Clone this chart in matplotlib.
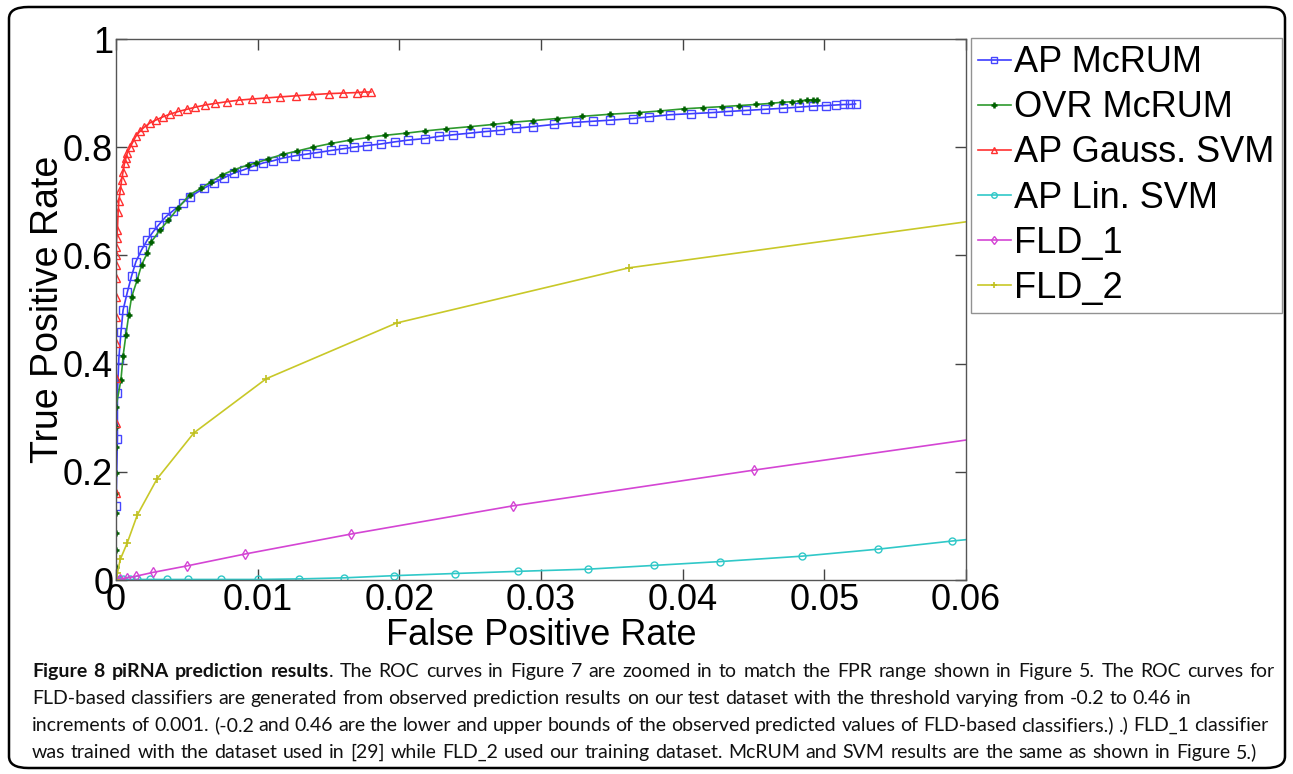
import matplotlib
matplotlib.use('Agg')
import matplotlib.pyplot as plt
from matplotlib.patches import FancyBboxPatch

# ROC curve points (FPR, TPR)
blue_fpr = [0, 0, 0.0001, 0.0001, 0.0002, 0.00035, 0.0005, 0.0008, 0.0011, 0.0014,
            0.0018, 0.0022, 0.0026, 0.003, 0.0035, 0.004, 0.0047, 0.0052, 0.0062, 0.0069,
            0.0076, 0.0083, 0.009, 0.0097, 0.0104, 0.0111, 0.0118, 0.0126, 0.0134, 0.0142,
            0.0152, 0.016, 0.0168, 0.0177, 0.0187, 0.0197, 0.0206, 0.0218, 0.0228, 0.0238,
            0.025, 0.0261, 0.0271, 0.0282, 0.0294, 0.0309, 0.0325, 0.0337, 0.0349, 0.0365,
            0.0376, 0.0391, 0.0406, 0.0421, 0.0432, 0.0445, 0.0458, 0.0471, 0.0482, 0.0492,
            0.0501, 0.0508, 0.0514, 0.0518, 0.0522]
blue_tpr = [0, 0.137, 0.26, 0.345, 0.409, 0.458, 0.499, 0.532, 0.562, 0.588,
            0.61, 0.628, 0.643, 0.656, 0.671, 0.682, 0.697, 0.708, 0.724, 0.734,
            0.743, 0.752, 0.758, 0.765, 0.771, 0.775, 0.78, 0.784, 0.787, 0.79,
            0.794, 0.797, 0.8, 0.803, 0.806, 0.81, 0.813, 0.816, 0.82, 0.823,
            0.826, 0.829, 0.831, 0.835, 0.838, 0.842, 0.846, 0.848, 0.85, 0.853,
            0.856, 0.86, 0.862, 0.864, 0.866, 0.868, 0.87, 0.872, 0.874, 0.876,
            0.877, 0.878, 0.879, 0.879, 0.88]

green_fpr = [0, 0, 0, 0, 0, 0, 0, 0, 0, 0,
             0.00035, 0.0005, 0.0007, 0.0009, 0.0011, 0.0015, 0.0018, 0.0022, 0.0025, 0.0031,
             0.0037, 0.0044, 0.0052, 0.006, 0.0067, 0.0075, 0.0083, 0.0093, 0.0099, 0.0107,
             0.0118, 0.0128, 0.0139, 0.0152, 0.0165, 0.0178, 0.019, 0.0205, 0.0218, 0.0233,
             0.025, 0.0266, 0.0279, 0.0294, 0.0311, 0.0329, 0.0349, 0.0369, 0.0384, 0.0401,
             0.0414, 0.0428, 0.044, 0.0452, 0.0462, 0.047, 0.0477, 0.0483, 0.0488, 0.0492,
             0.0495]
green_tpr = [0, 0.024, 0.055, 0.087, 0.124, 0.161, 0.198, 0.246, 0.283, 0.32,
             0.37, 0.414, 0.453, 0.49, 0.523, 0.555, 0.582, 0.604, 0.625, 0.647,
             0.665, 0.688, 0.712, 0.724, 0.736, 0.749, 0.758, 0.767, 0.771, 0.778,
             0.787, 0.793, 0.8, 0.807, 0.813, 0.818, 0.822, 0.826, 0.83, 0.834,
             0.838, 0.842, 0.846, 0.849, 0.853, 0.857, 0.861, 0.864, 0.867, 0.871,
             0.873, 0.875, 0.877, 0.879, 0.881, 0.883, 0.884, 0.886, 0.887, 0.888,
             0.888]

red_fpr = [0, 0, 0, 0, 0, 0, 0, 0, 0, 0,
           0, 0.00005, 0.0001, 0.00015, 0.0002, 0.0003, 0.0004, 0.0005, 0.0006, 0.0007,
           0.0008, 0.001, 0.0012, 0.0014, 0.0017, 0.002, 0.0024, 0.0028, 0.0033, 0.0038,
           0.0044, 0.005, 0.0056, 0.0063, 0.007, 0.0078, 0.0087, 0.0096, 0.0106, 0.0116,
           0.0127, 0.0138, 0.015, 0.016, 0.017, 0.0175, 0.018]
red_tpr = [0, 0.161, 0.29, 0.373, 0.438, 0.486, 0.523, 0.558, 0.582, 0.601,
           0.616, 0.632, 0.647, 0.68, 0.70, 0.72, 0.74, 0.755, 0.77, 0.78,
           0.79, 0.80, 0.81, 0.82, 0.83, 0.837, 0.845, 0.85, 0.856, 0.861,
           0.866, 0.87, 0.874, 0.878, 0.881, 0.884, 0.887, 0.889, 0.891, 0.893,
           0.895, 0.897, 0.899, 0.9, 0.901, 0.902, 0.902]

cyan_fpr = [0, 0.0002, 0.0005, 0.001, 0.0015, 0.0024, 0.0036, 0.0051, 0.0074, 0.01,
            0.0129, 0.0161, 0.0196, 0.0239, 0.0284, 0.0333, 0.038, 0.0426, 0.0484, 0.0538,
            0.059, 0.0625]
cyan_tpr = [0, 0, 0.001, 0.001, 0.001, 0.001, 0.001, 0.001, 0.001, 0.001,
            0.002, 0.004, 0.008, 0.012, 0.016, 0.02, 0.027, 0.034, 0.044, 0.057,
            0.072, 0.081]

mag_fpr = [0, 0.0003, 0.0008, 0.0014, 0.0026, 0.005, 0.0091, 0.0166, 0.028, 0.045, 0.0625]
mag_tpr = [0, 0.002, 0.004, 0.007, 0.014, 0.026, 0.048, 0.085, 0.137, 0.203, 0.268]

yel_fpr = [0, 0.0001, 0.0003, 0.0008, 0.0015, 0.0029, 0.0055, 0.0106, 0.0198, 0.0362, 0.0625]
yel_tpr = [0, 0.013, 0.038, 0.069, 0.12, 0.187, 0.272, 0.372, 0.475, 0.577, 0.671]

labels = ['AP McRUM', 'OVR McRUM', 'AP Gauss. SVM', 'AP Lin. SVM', 'FLD_1', 'FLD_2']
x_ticks = [0, 0.01, 0.02, 0.03, 0.04, 0.05, 0.06]
y_ticks = [0, 0.2, 0.4, 0.6, 0.8, 1]

caption = [
    [('Figure 8 piRNA prediction results', 'bold'),
     ('. The ROC curves in Figure 7 are zoomed in to match the FPR range shown in Figure 5. '
      'The ROC curves for', 'normal')],
    [('FLD-based classifiers are generated from observed prediction results on our test '
      'dataset with the threshold varying from -0.2 to 0.46 in', 'normal')],
    [('increments of 0.001. (-0.2 and 0.46 are the lower and upper bounds of the observed '
      'predicted values of FLD-based classifiers.) .) FLD_1 classifier', 'normal')],
    [('was trained with the dataset used in [29] while FLD_2 used our training dataset. '
      'McRUM and SVM results are the same as shown in Figure 5.)', 'normal')],
]
# right end (px) of each caption line
line_end = [1275, 1192, 1268, 1257]

plt.rcParams['font.family'] = ['Liberation Sans', 'DejaVu Sans']

W, H = 1293, 774
fig = plt.figure(figsize=(W / 100, H / 100), dpi=100)

# rounded outer frame
frame = FancyBboxPatch((9 / W, 6 / H), 1276 / W, 761 / H,
                       boxstyle='round,pad=0,rounding_size=0.015',
                       transform=fig.transFigure, fill=False,
                       edgecolor='black', linewidth=1.8)
fig.patches.append(frame)

ax = fig.add_axes([116 / W, 1 - 580 / H, (966 - 116) / W, (580 - 39) / H])

ax.plot(blue_fpr, blue_tpr, '-s', color='#3c3cff', mfc='none', mec='#4646ff',
        ms=5.5, mew=1, lw=1.2, label=labels[0])
ax.plot(green_fpr, green_tpr, '-+', color='#2e9a2e', mec='#006000',
        ms=5, mew=1.8, lw=1.2, label=labels[1])
ax.plot(red_fpr, red_tpr, '-^', color='#ff3030', mfc='none', mec='#ff3030',
        ms=5.5, mew=1, lw=1.2, label=labels[2])
ax.plot(cyan_fpr, cyan_tpr, '-o', color='#30c8c8', mfc='none', mec='#30c8c8',
        ms=5, mew=1, lw=1.2, label=labels[3])
ax.plot(mag_fpr, mag_tpr, '-d', color='#d445d4', mfc='none', mec='#d445d4',
        ms=5.5, mew=1, lw=1.2, label=labels[4])
ax.plot(yel_fpr, yel_tpr, '-+', color='#c8c828', mec='#c0c020',
        ms=6, mew=1.2, lw=1.2, label=labels[5])

ax.set_xlim(0, 0.06)
ax.set_ylim(0, 1)
ax.set_xticks(x_ticks)
ax.set_xticklabels(['0', '0.01', '0.02', '0.03', '0.04', '0.05', '0.06'])
ax.set_yticks(y_ticks)
ax.set_yticklabels(['0', '0.2', '0.4', '0.6', '0.8', '1'])
ax.tick_params(direction='in', length=8, width=1, colors='#444444',
               labelcolor='black', labelsize=26, top=True, right=True, pad=2)
for s in ax.spines.values():
    s.set_color('#555555')
    s.set_linewidth(1)
ax.set_xlabel('False Positive Rate', fontsize=26, labelpad=0)
ax.set_ylabel('True Positive Rate', fontsize=27, labelpad=-2)

leg = fig.legend(loc='upper left', bbox_to_anchor=(971 / W, 1 - 38 / H),
                 bbox_transform=fig.transFigure, fontsize=26, frameon=True,
                 fancybox=False, edgecolor='#777777', handlelength=0.9,
                 handletextpad=0.1, borderpad=0.2, labelspacing=0.28,
                 borderaxespad=0, markerscale=0.8)
leg.get_frame().set_linewidth(1)

# caption, words placed one by one so each line spans its measured width
cap_family = ['Lato', 'DejaVu Sans']
cap_size = 14
x0 = 32
line_base = [677, 704, 731, 758]
fig.canvas.draw()
rend = fig.canvas.get_renderer()


def word_width(txt, weight):
    t = fig.text(0, 0, txt, fontsize=cap_size, family=cap_family, weight=weight)
    w = t.get_window_extent(rend).width
    t.remove()
    return w


for parts, x1, ypix in zip(caption, line_end, line_base):
    # split into words, each word being a list of (text, weight) pieces
    words = []
    for txt, weight in parts:
        chunks = txt.split(' ')
        for i, c in enumerate(chunks):
            if i == 0 and words and c:
                words[-1].append((c, weight))
            elif c:
                words.append([(c, weight)])
    widths = [[word_width(c, wt) for c, wt in w] for w in words]
    total = sum(sum(w) for w in widths)
    gap = (x1 - x0 - total) / (len(words) - 1)
    x = x0
    for w, ws in zip(words, widths):
        for (c, wt), cw in zip(w, ws):
            fig.text(x / W, 1 - ypix / H, c, fontsize=cap_size, family=cap_family,
                     weight=wt, va='baseline', ha='left', color='#111111')
            x += cw
        x += gap

fig.savefig('out.png', dpi=100)
